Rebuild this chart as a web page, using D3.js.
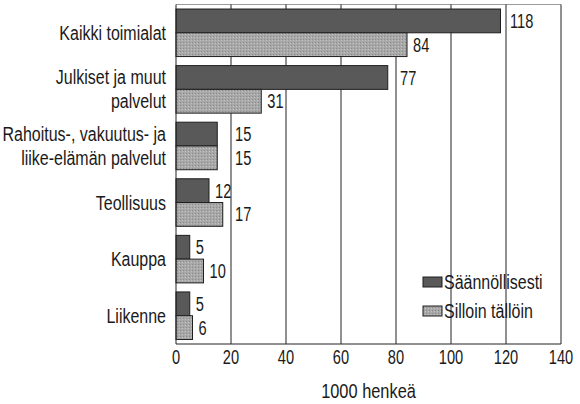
<!DOCTYPE html>
<html>
<head>
<meta charset="utf-8">
<script src="https://cdn.jsdelivr.net/npm/d3@7"></script>
<style>
  body { margin: 0; background: #fff; }
  svg text { font-family: "Liberation Sans", Arial, sans-serif; fill: #1a1a1a; }
</style>
</head>
<body>
<div id="chart"></div>
<script>
// data
const categories = [
    ['Kaikki toimialat'],
    ['Julkiset ja muut', 'palvelut'],
    ['Rahoitus-, vakuutus- ja', 'liike-elämän palvelut'],
    ['Teollisuus'],
    ['Kauppa'],
    ['Liikenne']
]
const regular = [118, 77, 15, 12, 5, 5]
const occasional = [84, 31, 15, 17, 10, 6]
const seriesNames = ['Säännöllisesti', 'Silloin tällöin']
const xTicks = [0, 20, 40, 60, 80, 100, 120, 140]
const xTitle = '1000 henkeä'

// consts
const width = 580, height = 404
const plotLeft = 176, plotRight = 561, plotTop = 4.5, plotBottom = 344
const colors = ['#595959', '#a8a8a8']
const fontSize = 19.5
const wordSqueeze = 0.82   // fake a condensed face
const digitSqueeze = 0.75

const svg = d3.select('#chart')
    .append('svg')
    .attr('width', width)
    .attr('height', height)

// helper: condensed text
const addText = (parent, tx, ty, str, opts = {}) => {
    const sx = opts.sx || wordSqueeze
    return parent.append('text')
        .attr('transform', `translate(${tx},${ty}) scale(${sx},1)`)
        .attr('dy', '0.36em')
        .attr('text-anchor', opts.anchor || 'start')
        .attr('font-size', opts.size || fontSize)
        .text(str)
}

// stipple pattern for the light bars
const defs = svg.append('defs')
const pat = defs.append('pattern')
    .attr('id', 'stipple')
    .attr('width', 3).attr('height', 3)
    .attr('patternUnits', 'userSpaceOnUse')
pat.append('rect').attr('width', 3).attr('height', 3).attr('fill', colors[1])
pat.append('rect').attr('x', 0).attr('y', 0).attr('width', 1).attr('height', 1).attr('fill', '#8a8a8a')
pat.append('rect').attr('x', 2).attr('y', 1).attr('width', 1).attr('height', 1).attr('fill', '#c2c2c2')

// scales
const x = d3.scaleLinear().domain([0, 140]).range([plotLeft, plotRight])
const y = d3.scaleBand()
    .domain(d3.range(categories.length))
    .range([plotTop, plotBottom])
    .paddingInner(0.16)
    .paddingOuter(0.08)
const ySub = d3.scaleBand().domain([0, 1]).range([0, y.bandwidth()])

// top border
svg.append('line')
    .attr('x1', plotLeft).attr('x2', plotRight)
    .attr('y1', plotTop).attr('y2', plotTop)
    .attr('stroke', '#9a9a9a').attr('stroke-width', 1)

// grid lines
svg.append('g')
    .selectAll('line')
    .data(xTicks.slice(1))
    .enter()
    .append('line')
    .attr('x1', d => x(d)).attr('x2', d => x(d))
    .attr('y1', plotTop).attr('y2', plotBottom)
    .attr('stroke', '#222').attr('stroke-width', 1)

// bars
const series = [regular, occasional]
const labelG = svg.append('g')
series.forEach((vals, s) => {
    svg.append('g')
        .selectAll('rect')
        .data(vals)
        .enter()
        .append('rect')
        .attr('x', x(0))
        .attr('y', (d, i) => y(i) + ySub(s))
        .attr('width', d => x(d) - x(0))
        .attr('height', ySub.bandwidth())
        .attr('fill', s === 0 ? colors[0] : 'url(#stipple)')
        .attr('stroke', '#1e1e1e')
        .attr('stroke-width', 1)

    // value labels, nudged past a grid line when they would sit on it
    vals.forEach((d, i) => {
        let lx = x(d) + 6
        const g = x(Math.round(d / 20) * 20)
        if (d > 0 && lx > g - 9 && lx < g + 3) lx = g + 4
        addText(labelG, lx, y(i) + ySub(s) + ySub.bandwidth() / 2, d, { sx: digitSqueeze })
    })
})

// axes lines
svg.append('line')
    .attr('x1', plotLeft).attr('x2', plotRight)
    .attr('y1', plotBottom).attr('y2', plotBottom)
    .attr('stroke', '#222')
svg.append('line')
    .attr('x1', plotLeft).attr('x2', plotLeft)
    .attr('y1', plotTop).attr('y2', plotBottom)
    .attr('stroke', '#222')

// tick labels
const tickG = svg.append('g')
xTicks.forEach(d => addText(tickG, x(d), 357, d, { sx: digitSqueeze, anchor: 'middle' }))

addText(svg, x(70), 391, xTitle, { anchor: 'middle', size: 19.5, sx: 0.84 })

// category labels
const catG = svg.append('g')
categories.forEach((lines, i) => {
    const cy = y(i) + y.bandwidth() / 2
    lines.forEach((t, j) => {
        addText(catG, 166, cy + (j - (lines.length - 1) / 2) * 24, t, { anchor: 'end' })
    })
})

// legend
const legend = svg.append('g').attr('transform', 'translate(423, 277)')
seriesNames.forEach((name, s) => {
    legend.append('rect')
        .attr('x', 0).attr('y', s * 29)
        .attr('width', 19).attr('height', 10)
        .attr('fill', s === 0 ? colors[0] : 'url(#stipple)')
        .attr('stroke', '#1e1e1e')
    addText(legend, 21, s * 29 + 5, name)
})
</script>
</body>
</html>
